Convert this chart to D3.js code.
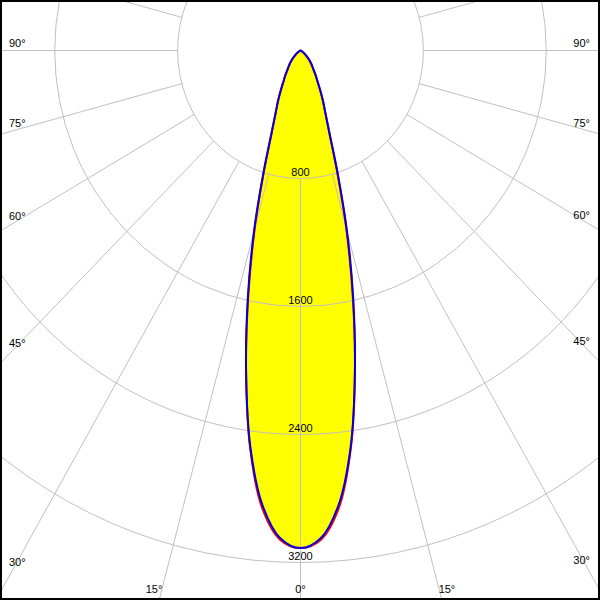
<!DOCTYPE html>
<html>
<head>
<meta charset="utf-8">
<script src="https://cdn.jsdelivr.net/npm/d3@7/dist/d3.min.js"></script>
<style>
  html, body { margin: 0; padding: 0; background: #fff; }
  svg { display: block; }
  text { font-family: "Liberation Sans", Arial, sans-serif; font-size: 11px; fill: #000; }
</style>
</head>
<body>
<svg id="chart" width="600" height="600"></svg>
<script>
// ---- data ----
const angles      = [0, 2.5, 5, 7.5, 10, 12.5, 15, 17.5, 20, 22.5, 25, 27.5, 30, 32.5, 35, 37.5, 40, 45, 50, 55, 60, 65, 70, 75, 80, 85, 90];
const blueValues  = [3110, 3050, 2850, 2500, 2040, 1585, 1170, 805, 555, 425, 345, 275, 220, 185, 150, 128, 110, 75, 45, 25, 12, 5, 2, 0, 0, 0, 0];
const redValues   = [3110, 3060, 2870, 2510, 2040, 1570, 1150, 790, 550, 422, 343, 273, 218, 183, 148, 126, 108, 74, 44, 25, 12, 5, 2, 0, 0, 0, 0];
const gridValues  = [800, 1600, 2400, 3200];
const angleLabels = [0, 15, 30, 45, 60, 75, 90];
const gridAngles  = d3.range(0, 360, 15);

// ---- layout ----
const W = 600, H = 600;
const cx = 300.5, cy = 50.5;
const rMax = 512, aspect = 0.96;
const maxVal = 3200;

const xScale = d3.scaleLinear().domain([-maxVal, maxVal]).range([cx - rMax * aspect, cx + rMax * aspect]);
const yScale = d3.scaleLinear().domain([0, maxVal]).range([cy, cy + rMax]);
const rad = d => d * Math.PI / 180;
const px = (v, a) => xScale(v * Math.sin(rad(a)));
const py = (v, a) => yScale(v * Math.cos(rad(a)));

const svg = d3.select("#chart");
svg.append("rect").attr("width", W).attr("height", H).attr("fill", "#fff");

function curvePoints(vals) {
  const pts = [];
  for (let i = angles.length - 1; i >= 1; i--) pts.push([px(vals[i], -angles[i]), py(vals[i], -angles[i])]);
  for (let i = 0; i < angles.length; i++) pts.push([px(vals[i], angles[i]), py(vals[i], angles[i])]);
  return pts;
}
const line = d3.line().curve(d3.curveCatmullRom.alpha(0.5));
const redPts = curvePoints(redValues), bluePts = curvePoints(blueValues);

// fills
svg.append("path").attr("d", line(redPts) + "Z").attr("fill", "#ffff00");
svg.append("path").attr("d", line(bluePts) + "Z").attr("fill", "#ffff00");

// value labels
svg.selectAll("text.val").data(gridValues).enter().append("text")
  .attr("class", "val")
  .attr("x", cx)
  .attr("y", d => yScale(d) - 3)
  .attr("text-anchor", "middle")
  .text(d => d);

// grid circles (ellipses due to aspect)
svg.selectAll("ellipse.grid").data(gridValues).enter().append("ellipse")
  .attr("cx", cx).attr("cy", cy)
  .attr("rx", d => xScale(d) - cx)
  .attr("ry", d => yScale(d) - cy)
  .attr("fill", "none").attr("stroke", "#c0c0c0").attr("stroke-width", 1);

// radial lines
svg.selectAll("line.grid").data(gridAngles).enter().append("line")
  .attr("x1", a => px(gridValues[0], a)).attr("y1", a => py(gridValues[0], a))
  .attr("x2", a => px(8000, a)).attr("y2", a => py(8000, a))
  .attr("stroke", "#c0c0c0").attr("stroke-width", 1);

// curve strokes
svg.append("path").attr("d", line(redPts) + "Z").attr("fill", "none")
  .attr("stroke", "#ff0000").attr("stroke-width", 2).attr("stroke-linejoin", "round");
svg.append("path").attr("d", line(bluePts) + "Z").attr("fill", "none")
  .attr("stroke", "#0000e0").attr("stroke-width", 2).attr("stroke-linejoin", "round");

// angle labels
const inL = 12.5, inR = 587.5, inB = 587.5;
const labelData = [];
angleLabels.forEach(a => {
  const sides = a === 0 ? [0] : [-1, 1];
  sides.forEach(s => {
    const dx = px(1000, s === 0 ? 0 : s * a) - cx;
    const dy = py(1000, a) - cy;
    const tB = (inB - cy) / dy;
    let tS = Infinity;
    if (Math.abs(dx) > 1e-9) tS = (s > 0 ? (inR - cx) : (cx - inL)) / Math.abs(dx);
    if (tS < tB || dy <= 1e-9) {
      labelData.push({ a, x: s < 0 ? 9 : 590, y: cy + dy * tS - 4, anchor: s < 0 ? "start" : "end" });
    } else {
      labelData.push({ a, x: cx + dx * tB, y: 593, anchor: s < 0 ? "end" : (s > 0 ? "start" : "middle") });
    }
  });
});
svg.selectAll("text.ang").data(labelData).enter().append("text")
  .attr("class", "ang")
  .attr("x", d => d.x).attr("y", d => d.y)
  .attr("text-anchor", d => d.anchor)
  .text(d => d.a + "°");

// frame
svg.append("rect").attr("x", 0).attr("y", 0).attr("width", W).attr("height", H)
  .attr("fill", "none").attr("stroke", "#000").attr("stroke-width", 4);
</script>
</body>
</html>
